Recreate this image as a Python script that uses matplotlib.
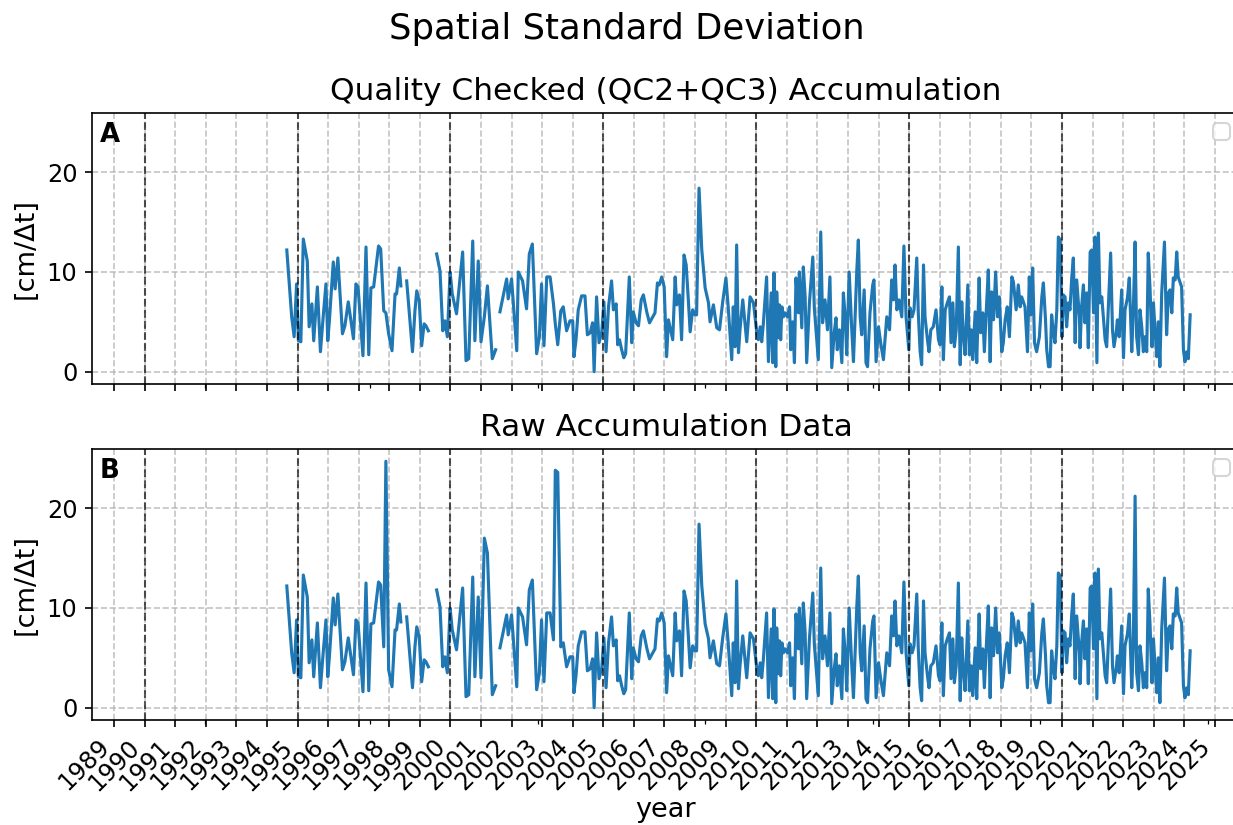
import numpy as np
import matplotlib
matplotlib.use('Agg')
from matplotlib import pyplot as plt
from matplotlib.ticker import MultipleLocator, FixedLocator, FuncFormatter

nan = np.nan

# 空间标准差 (raw accumulation), time in decimal years
t_9499 = [1994.65, 1994.81, 1994.89, 1994.97, 1995.03, 1995.11, 1995.19, 1995.32, 1995.38, 1995.47,
          1995.53, 1995.65, 1995.75, 1995.84, 1995.93, 1995.99, 1996.04, 1996.17, 1996.23, 1996.32,
          1996.47, 1996.55, 1996.66, 1996.83, 1996.91, 1996.98, 1997.14, 1997.24, 1997.33, 1997.40,
          1997.49, 1997.65, 1997.72, 1997.82, 1997.89, 1997.98, 1998.09, 1998.19, 1998.24, 1998.33,
          1998.38, 1998.47, 1998.57, 1998.76, 1998.84, 1998.90, 1998.98, 1999.06, 1999.14, 1999.20,
          1999.28, 1999.42]
v_9499 = [12.2, 5.5, 3.5, 8.8, 3.1, 3.0, 13.3, 11.1, 4.5, 6.8,
          3.1, 8.5, 2.0, 5.5, 8.8, 3.1, 5.0, 11.0, 8.3, 11.4,
          3.8, 4.6, 7.0, 3.3, 8.8, 8.5, 1.6, 12.5, 1.7, 8.4,
          8.5, 12.6, 12.3, 6.1, 24.7, 3.8, 2.1, 7.8, 7.8, 10.4,
          8.6, nan, 9.1, 2.0, 6.1, 8.1, 7.1, 2.6, 4.8, 4.6,
          4.1, nan]

t_9904 = [1999.55, 1999.66, 1999.75, 1999.82, 1999.90, 1999.99, 2000.06, 2000.20, 2000.40, 2000.51,
          2000.60, 2000.73, 2000.80, 2000.91, 2001.00, 2001.11, 2001.21, 2001.37, 2001.48, 2001.55,
          2001.62, 2001.84, 2001.89, 2002.00, 2002.17, 2002.22, 2002.36, 2002.49, 2002.58, 2002.68,
          2002.82, 2002.91, 2002.98, 2003.06, 2003.15, 2003.26, 2003.37, 2003.43, 2003.51, 2003.61,
          2003.69, 2003.80, 2003.91, 2004.00, 2004.04, 2004.11]
v_9904 = [11.8, 10.1, 4.1, 5.1, 3.5, 10.0, 7.8, 5.8, 12.0, 1.1,
          1.3, 13.1, 3.1, 11.1, 3.0, 17.0, 15.5, 1.3, 2.2, nan,
          6.0, 9.3, 7.3, 9.3, 2.1, 10.0, 9.1, 6.3, 11.8, 12.8,
          1.8, 3.5, 8.8, 2.6, 9.5, 9.5, 6.8, 23.8, 23.6, 6.1,
          6.5, 4.1, 5.1, 5.1, 1.5, 3.3]

t_0410 = [2004.18, 2004.29, 2004.40, 2004.48, 2004.57, 2004.65, 2004.70, 2004.78, 2004.86, 2004.95,
          2005.02, 2005.09, 2005.17, 2005.27, 2005.33, 2005.42, 2005.47, 2005.53, 2005.60, 2005.67,
          2005.73, 2005.85, 2005.93, 2005.98, 2006.07, 2006.15, 2006.24, 2006.31, 2006.42, 2006.51,
          2006.62, 2006.69, 2006.77, 2006.83, 2006.91, 2006.99, 2007.07, 2007.13, 2007.18, 2007.27,
          2007.35, 2007.40, 2007.49, 2007.56, 2007.64, 2007.71, 2007.78, 2007.84, 2007.92, 2008.00,
          2008.05, 2008.13, 2008.22, 2008.33, 2008.44, 2008.49, 2008.60, 2008.71, 2008.80, 2008.90,
          2009.01, 2009.09, 2009.20, 2009.25, 2009.31, 2009.36, 2009.42, 2009.47, 2009.56, 2009.69,
          2009.80, 2009.91, 2010.02]
v_0410 = [6.2, 7.6, 7.6, 3.7, 3.9, 4.9, 0.0, 7.5, 2.9, 4.0,
          7.0, 2.0, 6.5, 9.1, 6.2, 6.8, 2.7, 3.2, 2.2, 1.4,
          1.8, 9.5, 2.9, 6.0, 4.9, 4.6, 7.2, 7.7, 6.0, 4.9,
          5.5, 5.9, 8.9, 8.7, 9.5, 8.5, 1.5, 5.2, 4.5, 3.2,
          9.5, 6.7, 7.7, 3.2, 11.7, 10.7, 7.2, 4.0, 6.2, 5.7,
          5.7, 18.4, 12.2, 8.4, 6.9, 5.0, 6.7, 4.4, 4.2, 6.9,
          9.4, 6.2, 1.2, 6.5, 2.5, 12.7, 1.9, 4.2, 7.2, 3.0,
          7.5, 6.9, 3.9]

t_1016 = [2010.07, 2010.13, 2010.18, 2010.23, 2010.34, 2010.40, 2010.49, 2010.54, 2010.58, 2010.64,
          2010.67, 2010.72, 2010.76, 2010.80, 2010.84, 2010.89, 2010.94, 2011.02, 2011.09, 2011.13,
          2011.19, 2011.25, 2011.30, 2011.38, 2011.41, 2011.49, 2011.54, 2011.60, 2011.65, 2011.74,
          2011.85, 2011.90, 2012.03, 2012.11, 2012.17, 2012.25, 2012.33, 2012.41, 2012.47, 2012.55,
          2012.61, 2012.65, 2012.72, 2012.80, 2012.85, 2012.91, 2012.96, 2013.04, 2013.12, 2013.18,
          2013.29, 2013.34, 2013.40, 2013.45, 2013.53, 2013.59, 2013.64, 2013.72, 2013.81, 2013.85,
          2013.92, 2014.00, 2014.07, 2014.16, 2014.27, 2014.36, 2014.43, 2014.49, 2014.54, 2014.60,
          2014.67, 2014.76, 2014.83, 2014.90, 2014.99, 2015.03, 2015.10, 2015.16, 2015.25, 2015.30,
          2015.36, 2015.41, 2015.47, 2015.52, 2015.60, 2015.65, 2015.71, 2015.79, 2015.88, 2015.96,
          2016.01, 2016.07, 2016.12, 2016.18, 2016.25, 2016.32]
v_1016 = [3.2, 4.5, 3.0, 4.7, 9.5, 1.0, 7.9, 0.9, 9.9, 0.5,
          8.0, 3.4, 6.7, 3.2, 6.5, 5.5, 5.9, 5.5, 6.5, 2.2,
          5.0, 0.9, 9.4, 5.9, 10.0, 4.4, 10.5, 7.5, 0.9, 6.9,
          11.5, 6.4, 1.2, 14.0, 4.9, 7.2, 4.2, 9.5, 0.4, 3.9,
          5.4, 2.2, 4.2, 0.9, 7.9, 5.5, 1.7, 10.0, 4.5, 1.0,
          10.2, 13.2, 5.5, 3.7, 8.2, 0.9, 0.5, 5.9, 8.7, 9.2,
          1.0, 4.5, 2.9, 1.2, 5.5, 4.2, 9.2, 7.2, 10.7, 6.2,
          7.2, 5.5, 12.6, 5.5, 2.2, 6.4, 5.5, 6.2, 11.4, 5.9,
          2.0, 0.7, 10.7, 5.5, 3.2, 2.0, 4.2, 4.5, 6.2, 3.2,
          2.7, 8.5, 1.2, 6.2, 6.9, 7.5]

t_1621 = [2016.37, 2016.43, 2016.48, 2016.54, 2016.61, 2016.67, 2016.72, 2016.77, 2016.83, 2016.92,
          2016.97, 2017.03, 2017.08, 2017.16, 2017.21, 2017.29, 2017.34, 2017.41, 2017.46, 2017.52,
          2017.59, 2017.65, 2017.70, 2017.76, 2017.83, 2017.89, 2017.95, 2018.03, 2018.08, 2018.14,
          2018.21, 2018.28, 2018.36, 2018.41, 2018.50, 2018.57, 2018.63, 2018.68, 2018.79, 2018.87,
          2018.93, 2018.98, 2019.04, 2019.10, 2019.17, 2019.26, 2019.34, 2019.39, 2019.46, 2019.50,
          2019.56, 2019.61, 2019.66, 2019.72, 2019.77, 2019.83, 2019.88, 2019.94, 2020.00, 2020.04,
          2020.10, 2020.15, 2020.21, 2020.26, 2020.32, 2020.37, 2020.43, 2020.48, 2020.57, 2020.59,
          2020.64, 2020.70, 2020.75, 2020.81, 2020.86, 2020.92, 2020.97, 2021.03, 2021.08, 2021.14,
          2021.19]
v_1621 = [2.9, 6.9, 2.5, 4.2, 12.5, 0.7, 7.0, 3.9, 1.7, 8.7,
          1.7, 4.2, 1.2, 6.0, 0.9, 9.4, 3.9, 5.9, 2.0, 5.9,
          10.2, 1.0, 8.0, 5.2, 10.0, 5.5, 7.5, 2.0, 2.9, 5.2,
          6.5, 3.5, 9.5, 9.0, 6.2, 8.7, 6.5, 7.5, 6.5, 2.0,
          9.5, 5.7, 10.4, 2.9, 2.0, 3.5, 7.5, 8.9, 5.2, 2.2,
          0.5, 0.5, 5.7, 3.9, 2.9, 6.2, 13.5, 13.2, 3.5, 7.7,
          7.5, 4.5, 6.9, 6.2, 9.5, 11.4, 2.9, 9.2, 5.4, 2.4,
          6.5, 8.7, 4.9, 7.9, 2.4, 12.0, 12.2, 5.9, 13.5, 0.9,
          13.9]

t_2124 = [2021.24, 2021.30, 2021.41, 2021.46, 2021.59, 2021.65, 2021.70, 2021.77, 2021.81, 2021.87,
          2021.95, 2022.01, 2022.06, 2022.14, 2022.20, 2022.28, 2022.33, 2022.39, 2022.44, 2022.50,
          2022.55, 2022.61, 2022.66, 2022.71, 2022.77, 2022.82, 2022.88, 2022.94, 2022.99, 2023.04,
          2023.10, 2023.15, 2023.20, 2023.26, 2023.35, 2023.42, 2023.48, 2023.53, 2023.59, 2023.64,
          2023.70, 2023.75, 2023.80, 2023.91, 2023.97, 2024.02, 2024.08, 2024.13, 2024.19]
v_2124 = [6.9, 7.5, 3.2, 2.5, 11.9, 4.2, 2.5, 3.9, 5.2, 3.5,
          8.2, 1.4, 6.2, 7.4, 9.4, 2.0, 5.9, 21.2, 3.5, 1.7,
          6.2, 4.4, 2.0, 3.5, 2.0, 11.9, 8.2, 2.5, 6.9, 4.2,
          1.5, 5.0, 0.5, 7.9, 13.0, 3.7, 7.9, 8.2, 5.9, 9.4,
          9.2, 12.0, 9.5, 8.5, 2.2, 1.0, 2.0, 1.3, 5.7]

# QC后数值与原始数据不同的时刻
qc_t = [1997.89, 2001.11, 2001.21, 2003.43, 2003.51, 2022.39]
qc_v = [5.9, 5.5, 8.6, 4.8, 2.7, 13.0]

# 年代分界虚线
decade_lines = [1990, 1995, 2000, 2005, 2010, 2015, 2020]
minor_marks = [1991.98, 1997.37, 2002.87, 2008.33, 2013.82, 2019.28, 2024.77]

"""==========================================组合数据========================================"""
t_raw = np.array(t_9499 + t_9904 + t_0410 + t_1016 + t_1621 + t_2124)
v_raw = np.array(v_9499 + v_9904 + v_0410 + v_1016 + v_1621 + v_2124, dtype=float)
v_qc = v_raw.copy()
for t, v in zip(qc_t, qc_v):
    v_qc[np.argmin(np.abs(t_raw - t))] = v

"""==========================================绘图========================================"""
fig = plt.figure(figsize=(1233 / 150, 825 / 150), dpi=150)
ax_w = (1240 - 92) / 1233
ax_h = 271 / 825
ax1 = fig.add_axes([92 / 1233, 1 - 384 / 825, ax_w, ax_h])
ax2 = fig.add_axes([92 / 1233, 1 - 720 / 825, ax_w, ax_h], sharex=ax1, sharey=ax1)

panels = [(ax1, v_qc, 'Quality Checked (QC2+QC3) Accumulation', 'A'),
          (ax2, v_raw, 'Raw Accumulation Data', 'B')]
for ax, vals, title, tag in panels:
    ax.plot(t_raw, vals, color='#1f77b4', lw=1.5)
    for yr in decade_lines:
        ax.axvline(yr, color='k', ls='--', lw=1.0, alpha=0.65)
    ax.grid(True, ls='--', lw=0.8, color='#b0b0b0', alpha=0.75)
    ax.set_title(title, fontsize=15)
    ax.set_ylabel('[cm/\u0394t]', fontsize=13)
    ax.text(0.007, 0.965, tag, transform=ax.transAxes, fontsize=12.5,
            fontweight='bold', va='top', ha='left')
    ax.legend(handles=[], loc='upper right')
    ax.tick_params(axis='both', labelsize=11.5)

ax1.set_xlim(1988.28, 2025.82)
ax2.xaxis.set_major_locator(MultipleLocator(1))
ax2.xaxis.set_minor_locator(FixedLocator(minor_marks))
ax2.xaxis.set_major_formatter(FuncFormatter(lambda x, _: '%d' % round(x)))
ax2.yaxis.set_major_locator(MultipleLocator(10))
ax1.tick_params(labelbottom=False)
plt.setp(ax2.get_xticklabels(), rotation=45, ha='right')
ax2.set_xlabel('year', fontsize=13, labelpad=1)

fig.suptitle('Spatial Standard Deviation', fontsize=17, x=627 / 1233, y=0.985)

fig.savefig('out.png', dpi=150)
